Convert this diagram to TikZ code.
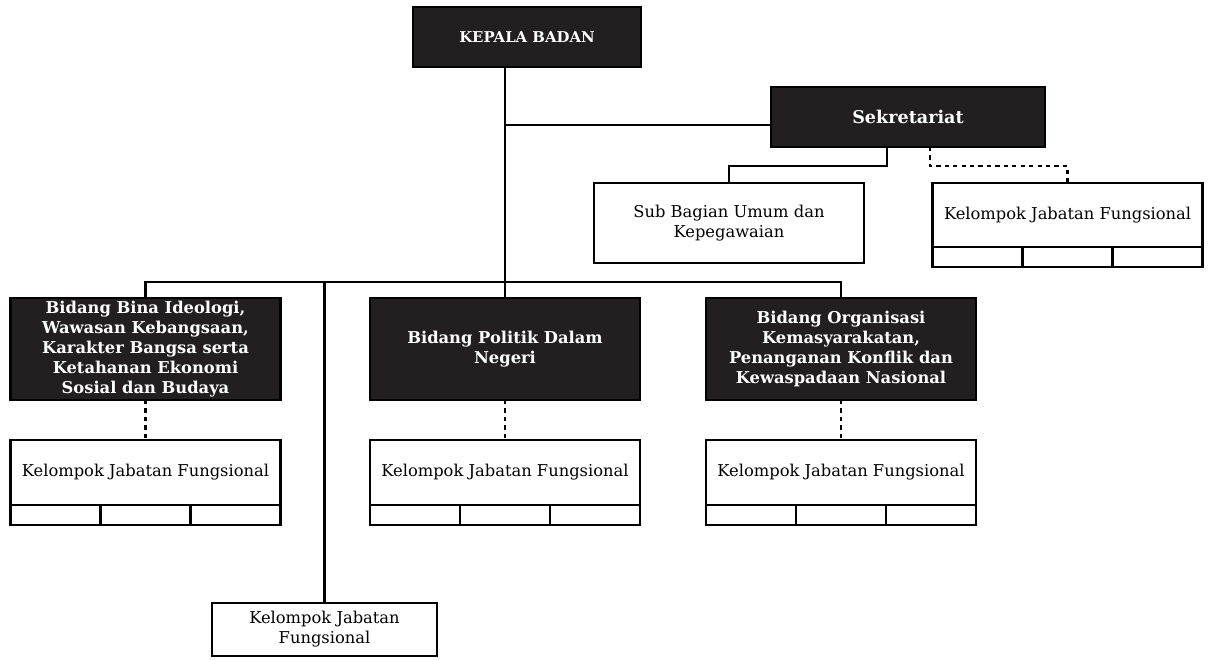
\documentclass[tikz,border=0pt]{standalone}
\usepackage{fontspec}
\setmainfont{DejaVu Serif}
\usepackage{tikz}
\usetikzlibrary{positioning}
\definecolor{kotak}{RGB}{35,31,32}

\begin{document}
\begin{tikzpicture}[line width=1.6pt, node distance=1cm,
  every node/.style={outer sep=0pt, inner sep=2pt, align=center, font=\fontsize{11.6}{14.3}\selectfont},
  gelap/.style={draw, fill=kotak, text=white, font=\fontsize{11.6}{14.3}\selectfont\bfseries, minimum width=6.75cm, minimum height=2.55cm},
  putih/.style={draw, fill=white, minimum width=6.75cm},
  sel/.style={draw, minimum width=2.25cm, minimum height=0.5cm, inner sep=0pt}]
  \useasboundingbox (0,0) rectangle (30.25,-16.475);

  \node [gelap, minimum width=5.7cm, minimum height=1.5cm, font=\fontsize{10.6}{13}\selectfont\bfseries] (kepala) at (13.175,-0.925) {KEPALA BADAN};
  \node [gelap, minimum width=6.85cm, minimum height=1.5cm, font=\fontsize{12.5}{14}\selectfont\bfseries] (sek) at (22.7,-2.925) {Sekretariat};
  \node [putih, minimum height=2cm] (subbag) at (18.225,-5.575) {Sub Bagian Umum dan\\Kepegawaian};
  \node [putih, minimum height=1.6cm] (jfsek) at (26.69,-5.375) {Kelompok Jabatan Fungsional};

  \node [gelap] (bina) at (3.6375,-8.725) {Bidang Bina Ideologi,\\Wawasan Kebangsaan,\\Karakter Bangsa serta\\Ketahanan Ekonomi\\Sosial dan Budaya};
  \node [gelap] (pol) at (12.625,-8.725) {Bidang Politik Dalam\\Negeri};
  \node [gelap] (ormas) at (21.025,-8.725) {Bidang Organisasi\\Kemasyarakatan,\\Penanganan Konflik dan\\Kewaspadaan Nasional};

  \node [putih, minimum height=1.625cm] (jfbina) [below=of bina] {Kelompok Jabatan Fungsional};
  \node [putih, minimum height=1.625cm] (jfpol) [below=of pol] {Kelompok Jabatan Fungsional};
  \node [putih, minimum height=1.625cm] (jformas) [below=of ormas] {Kelompok Jabatan Fungsional};
  \node [putih, minimum width=5.625cm, minimum height=1.325cm] (jfbawah) at (8.1125,-15.7375) {Kelompok Jabatan\\Fungsional};

  \foreach \k in {jfsek,jfbina,jfpol,jformas} {
    \node [sel, anchor=north west] (\k a) at (\k.south west) {};
    \node [sel, right=0pt of \k a] (\k b) {};
    \node [sel, right=0pt of \k b] (\k c) {};
  }

  \coordinate (bus) at (0,-7.05);
  \draw (kepala.south -| pol.north) -- (pol.north);
  \draw ([yshift=-0.2cm]sek.west) -- ([yshift=-0.2cm]sek.west -| pol.north);
  \draw (bina.north) |- (bus -| ormas.north) -- (ormas.north);
  \draw (jfbawah.north) -- (jfbawah.north |- bus);
  \draw ([xshift=-0.525cm]sek.south) -- ++(0,-0.475) -| (subbag.north);
  \draw [dashed] ([xshift=0.55cm]sek.south) -- ++(0,-0.475) -| (jfsek.north);
  \draw [dashed] (bina.south) -- (jfbina.north);
  \draw [dashed] (pol.south) -- (jfpol.north);
  \draw [dashed] (ormas.south) -- (jformas.north);
\end{tikzpicture}
\end{document}
